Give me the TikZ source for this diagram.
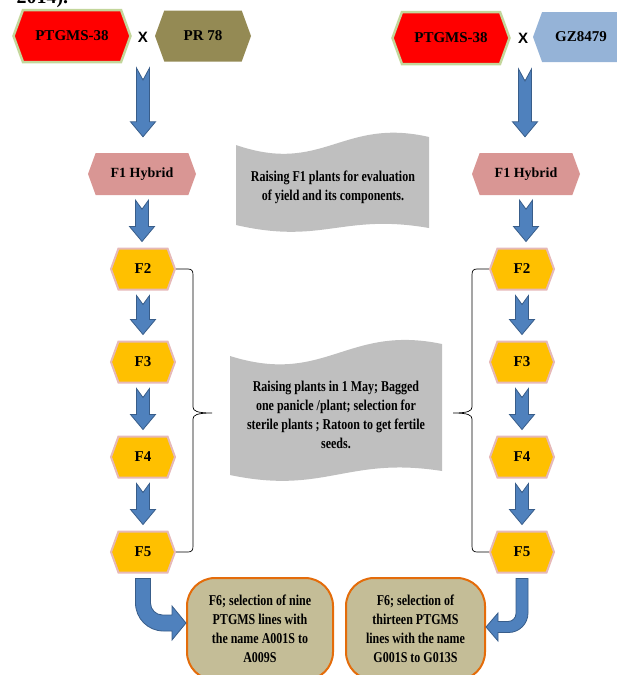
\documentclass[tikz,border=0pt]{standalone}
\usepackage{fontspec}
\setmainfont{Liberation Serif}
\newfontfamily\narrowserif[FakeStretch=0.8]{Liberation Serif}
\newfontfamily\crossfont{Liberation Sans}
\usetikzlibrary{calc, shapes.symbols}

\definecolor{ptred}{RGB}{255,0,0}
\definecolor{ptedge}{RGB}{195,214,155}
\definecolor{prolive}{RGB}{148,138,84}
\definecolor{gzblue}{RGB}{149,179,215}
\definecolor{hybpink}{RGB}{217,150,148}
\definecolor{genyellow}{RGB}{255,192,0}
\definecolor{genedge}{RGB}{230,185,184}
\definecolor{arrowblue}{RGB}{79,129,189}
\definecolor{arrowedge}{RGB}{56,93,138}
\definecolor{docgray}{RGB}{191,191,191}
\definecolor{selfill}{RGB}{196,189,151}
\definecolor{seledge}{RGB}{228,108,10}

\begin{document}
\begin{tikzpicture}[x=1pt, y=-1pt]
\tikzset{
  hexbox/.style={shape=signal, signal to=east and west, signal pointer angle=140,
    inner sep=0pt, font=\bfseries\fontsize{15}{18}\selectfont},
  ptgms/.style={hexbox, fill=ptred, draw=ptedge, line width=2.5pt,
    minimum width=117pt, minimum height=52pt},
  donor/.style={hexbox, minimum width=96pt, minimum height=51pt},
  hybrid/.style={hexbox, fill=hybpink, minimum width=108pt, minimum height=42pt,
    font=\bfseries\fontsize{14}{17}\selectfont},
  gen/.style={hexbox, fill=genyellow, draw=genedge, line width=2pt,
    minimum width=64pt, minimum height=41pt},
  crosssign/.style={font=\crossfont\bfseries\fontsize{15}{18}\selectfont, inner sep=0pt},
  blockarrow/.style={fill=arrowblue, draw=arrowedge, line width=0.8pt},
  docshape/.style={fill=docgray},
  doctext/.style={align=center, inner sep=0pt,
    font=\narrowserif\bfseries\fontsize{15}{19}\selectfont},
  selbox/.style={rounded corners=28pt, fill=selfill, draw=seledge, line width=2pt,
    align=center, inner sep=0pt, minimum height=102pt,
    font=\narrowserif\bfseries\fontsize{15}{19}\selectfont},
  bracket/.style={draw=black, line width=0.7pt}
}
\newcommand{\blockdown}[3]{% top, tip, notch depth
  \filldraw[blockarrow] let \p1=(#1), \p2=(#2) in
    (\x1-6.5pt,\y1) -- (\x1,\y1-#3) -- (\x1+6.5pt,\y1) -- (\x1+6.5pt,\y2+15pt)
    -- (\x1+12.5pt,\y2+15pt) -- (\x1,\y2) -- (\x1-12.5pt,\y2+15pt)
    -- (\x1-6.5pt,\y2+15pt) -- cycle;
}
\newcommand{\wavedoc}[6]{% left, right, top, rise, bottom, drop
  \fill[docshape] (#1,#3+#4) .. controls ({#1+0.45*(#2-#1)},#3+#4+30) and ({#1+0.55*(#2-#1)},#3-20) .. (#2,#3)
    -- (#2,#5) .. controls ({#1+0.55*(#2-#1)},#5-15) and ({#1+0.45*(#2-#1)},#5+#6+20) .. (#1,#5+#6) -- cycle;
}

  \useasboundingbox (0,0) rectangle (617,675);

  \node[anchor=base west, font=\bfseries\fontsize{20}{24}\selectfont] (caption) at (13,3) {2014).};

  % crosses
  \node[ptgms] (ptL) at (72,36) {PTGMS-38};
  \node[crosssign] (crossL) at (143,37) {X};
  \node[donor, fill=prolive] (pr) at (203,36) {PR 78};
  \node[ptgms] (ptR) at (451,38) {PTGMS-38};
  \node[crosssign] (crossR) at (523,38) {X};
  \node[donor, fill=gzblue, minimum height=50pt] (gz) at (581,37) {GZ8479};

  \node[hybrid] (hybL) at (142,174) {F1 Hybrid};
  \node[hybrid] (hybR) at (526,174) {F1 Hybrid};

  \foreach \n/\y in {2/269, 3/362, 4/457, 5/552} {
    \node[gen] (fL\n) at (143,\y) {F\n};
    \node[gen] (fR\n) at (522,\y) {F\n};
  }

  \blockdown{$(crossL)+(0,31)$}{$(hybL.north)+(0,-16)$}{12pt}
  \blockdown{$(crossR)+(2,31)$}{$(hybR.north)+(0,-16)$}{12pt}
  \foreach \a/\b in {hybL/fL2, fL2/fL3, fL3/fL4, fL4/fL5, hybR/fR2, fR2/fR3, fR3/fR4, fR4/fR5}
    {\blockdown{$(\a.south)+(0,5)$}{$(\b.north)+(0,-6)$}{9pt}}

  % notes
  \wavedoc{236}{429}{137}{8}{228}{-3}
  \node[doctext] (noteA) at (333,187.5)
    {Raising F1 plants for evaluation\\ of yield and its components.};
  \wavedoc{230}{442}{344}{12}{471}{4}
  \node[doctext] (noteB) at (336,415)
    {Raising plants in 1 May; Bagged\\ one panicle /plant; selection for\\
     sterile plants ; Ratoon to get fertile\\ seeds.};

  \draw[bracket] (fL2.east) -- (188,269) .. controls (192,269) and (193,271) .. (193,275)
    -- (193,407) .. controls (193,411) and (197,413) .. (212,413)
    .. controls (197,413) and (193,415) .. (193,419)
    -- (193,546) .. controls (193,550) and (192,552) .. (188,552) -- (fL5.east);
  \draw[bracket] (fR2.west) -- (477,269) .. controls (473,269) and (472,271) .. (472,275)
    -- (472,407) .. controls (472,411) and (468,413) .. (453,413)
    .. controls (468,413) and (472,415) .. (472,419)
    -- (472,546) .. controls (472,550) and (473,552) .. (477,552) -- (fR5.west);

  % selections
  \node[selbox, minimum width=146pt] (selL) at (260,629)
    {F6; selection of nine\\ PTGMS lines with\\ the name A001S to\\ A009S};
  \node[selbox, minimum width=139pt] (selR) at (415.5,629)
    {F6; selection of\\ thirteen PTGMS\\ lines with the name\\ G001S to G013S};

  \filldraw[blockarrow] let \p1=(fL5.south), \p2=(selL.west) in
    (\x1-7.5pt,\y1-5pt) -- (\x1+7.5pt,\y1-5pt) -- (\x1+7.5pt,\y2+26pt)
    .. controls (\x1+7.5pt,\y2+19.4pt) and (\x1+12.9pt,\y2+14pt) .. (\x1+19.5pt,\y2+14pt)
    -- (\x2-14pt,\y2+14pt) -- (\x2-14pt,\y2+23pt) -- (\x2,\y2+6pt) -- (\x2-14pt,\y2-11pt)
    -- (\x2-14pt,\y2-2pt) -- (\x1+20.5pt,\y2-2pt)
    .. controls (\x1+5pt,\y2-2pt) and (\x1-7.5pt,\y2+10.5pt) .. (\x1-7.5pt,\y2+26pt) -- cycle;
  \filldraw[blockarrow] let \p1=(fR5.south), \p2=(selR.east) in
    (\x1+6pt,\y1-5pt) -- (\x1-6pt,\y1-5pt) -- (\x1-6pt,\y2+15.5pt)
    .. controls (\x1-6pt,\y2+11.1pt) and (\x1-9.6pt,\y2+7.5pt) .. (\x1-14pt,\y2+7.5pt)
    -- (\x2+12pt,\y2+7.5pt) -- (\x2+12pt,\y2+16pt) -- (\x2,\y2+2pt) -- (\x2+12pt,\y2-12pt)
    -- (\x2+12pt,\y2-3.5pt) -- (\x1-13.5pt,\y2-3.5pt)
    .. controls (\x1-2.7pt,\y2-3.5pt) and (\x1+6pt,\y2+5.2pt) .. (\x1+6pt,\y2+16pt) -- cycle;
\end{tikzpicture}
\end{document}
